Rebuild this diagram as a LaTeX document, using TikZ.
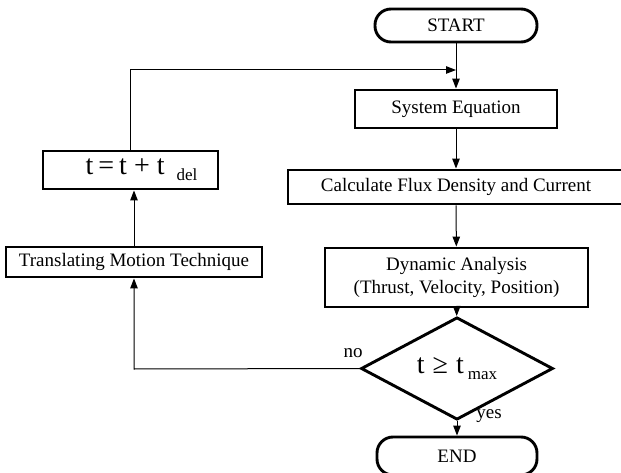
\documentclass[tikz,border=0pt]{standalone}
\usepackage{fontspec}
\setmainfont{Liberation Serif}
\usetikzlibrary{shapes.geometric,arrows.meta}

% t followed by a lowered index, as set in the two formula boxes
\newcommand{\lowidx}[2]{\hspace{#1}\raisebox{-6pt}{\fontsize{17}{17}\selectfont #2}}

\begin{document}
\begin{tikzpicture}[x=1pt,y=-1pt,
  txt/.style={font=\fontsize{19}{23}\selectfont},
  box/.style={txt,draw,line width=2.9pt,rectangle,inner sep=0pt,align=center},
  term/.style={box,rounded corners=16pt},
  cond/.style={draw,diamond,line width=2.9pt,inner sep=0pt},
  link/.style={line width=1pt,-{Triangle[length=10pt,width=7.5pt]}}]
\useasboundingbox (0,0) rectangle (621,473);

% main column
\node[term,minimum width=162pt,minimum height=33pt] (start) at (456,25.5) {START};
\node[box,minimum width=202pt,minimum height=38pt] (sys) at (456,109) {System Equation};
\node[box,minimum width=336pt,minimum height=34pt] (calc) at (456,187) {Calculate Flux Density and Current};
\node[box,minimum width=263pt,minimum height=59pt] (dyn) at (456.5,277.5)
  {Dynamic Analysis\\(Thrust, Velocity, Position)};
\node[cond,minimum width=192pt,minimum height=51pt] (test) at (457,368.5)
  {\fontsize{28}{30}\selectfont t\hspace{8pt}≥\hspace{8pt}t\lowidx{4pt}{max}};
\node[term,minimum width=160pt,minimum height=38pt] (stop) at (457,456) {END};

% feedback column
\node[box,minimum width=256pt,minimum height=30pt] (trans) at (134,262) {Translating Motion Technique};
\node[box,minimum width=175pt,minimum height=38pt] (step) at (130.5,170)
  {\fontsize{28}{30}\selectfont\hspace{22pt}t\hspace{5pt}=\hspace{5pt}t\hspace{7pt}+\hspace{7pt}t\lowidx{12pt}{del}};

\coordinate (merge) at (456,70);
\coordinate (turn) at (134,369);

% connectors
\draw[link] (start) -- (sys);
\draw[link] (sys) -- (calc);
\draw[link] (calc) -- (dyn);
\draw[link] (dyn) -- (test);
\draw[link] (test) -- (stop);
\draw[link] (test.west) -- (turn) -- (trans.south -| turn);
\draw[link] (trans.north -| turn) -- (step.south -| turn);
\draw[link] (step.north) |- (merge);

% branch labels
\node[txt] (no) at (353,353) {no};
\node[txt] (yes) at (489,416) {yes};
\end{tikzpicture}
\end{document}
